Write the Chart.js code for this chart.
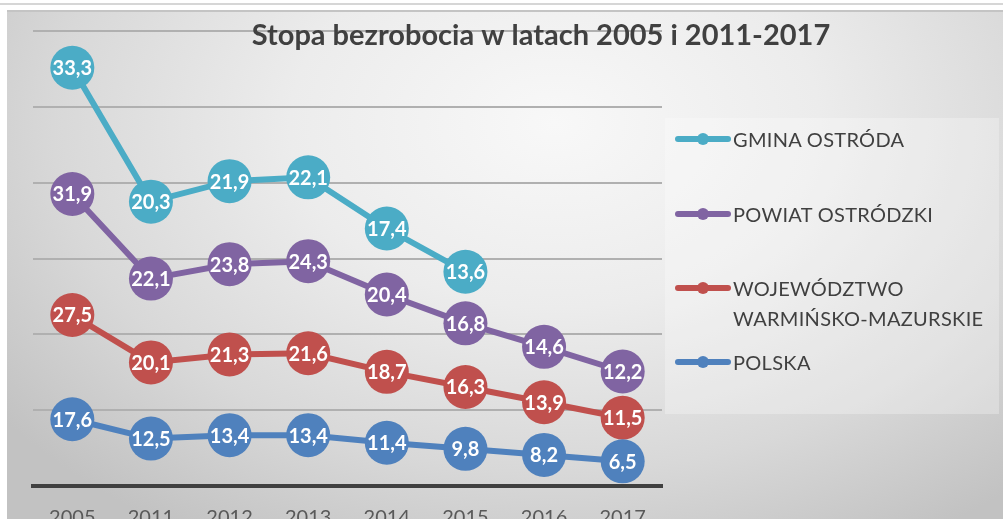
<!DOCTYPE html>
<html lang="pl">
<head>
<meta charset="utf-8">
<title>Stopa bezrobocia</title>
<script src="https://cdn.jsdelivr.net/npm/chart.js@4/dist/chart.umd.min.js"></script>
<style>
  html, body { margin: 0; padding: 0; background: #fff; overflow: hidden; }
  body { width: 1003px; height: 519px; position: relative; }
  .top-line { position: absolute; left: 0; top: 3px; width: 1003px; height: 2px; background: #d6d6d6; }
  .frame {
    position: absolute; left: 7px; top: 10px; width: 996px; height: 509px;
    border-top: 2px solid #c4c4c4;
    background: radial-gradient(ellipse 70% 95% at 55% 22%, #f8f8f8 0%, #ececec 38%, #d8d8d8 72%, #c2c2c2 100%);
  }
  .wrap { position: absolute; left: 0; top: 0; width: 1003px; height: 540px; }
  #legend {
    position: absolute; left: 665px; top: 118px; width: 334px; height: 296px;
    background: rgba(255,255,255,0.28);
    font-family: Lato, "Open Sans", sans-serif; font-size: 20px; color: #404040;
  }
  .item { position: absolute; left: 0; display: flex; align-items: flex-start; }
  .item svg { margin-left: 10px; margin-top: 9px; flex: none; }
  .item span { margin-left: 2px; line-height: 30px; white-space: pre; letter-spacing: 0.3px; }
</style>
</head>
<body>
<div class="top-line"></div>
<div class="frame"></div>
<div class="wrap"><canvas id="chart" width="1003" height="540"></canvas></div>
<div id="legend"></div>
<script>
// data
const years = ["2005", "2011", "2012", "2013", "2014", "2015", "2016", "2017"];
const gmina = [33.3, 20.3, 21.9, 22.1, 17.4, 13.6, null, null];
const powiat = [31.9, 22.1, 23.8, 24.3, 20.4, 16.8, 14.6, 12.2];
const wojewodztwo = [27.5, 20.1, 21.3, 21.6, 18.7, 16.3, 13.9, 11.5];
const polska = [17.6, 12.5, 13.4, 13.4, 11.4, 9.8, 8.2, 6.5];

const names = ["POLSKA", "WOJEWÓDZTWO\nWARMIŃSKO-MAZURSKIE", "POWIAT OSTRÓDZKI", "GMINA OSTRÓDA"];
const colors = ["#4F81BD", "#C0504D", "#8064A2", "#4BACC6"];
const series = [polska, wojewodztwo, powiat, gmina];

const FONT = "Lato, 'Open Sans', sans-serif";

// value labels inside the big markers
const valueLabels = {
    id: "valueLabels",
    afterDatasetsDraw(chart) {
        const ctx = chart.ctx;
        ctx.save();
        ctx.font = "bold 20px " + FONT;
        ctx.fillStyle = "#ffffff";
        ctx.textAlign = "center";
        ctx.textBaseline = "middle";
        for (let i = chart.data.datasets.length - 1; i >= 0; i--) {
            const meta = chart.getDatasetMeta(i);
            const data = chart.data.datasets[i].data;
            meta.data.forEach((pt, j) => {
                if (data[j] == null) return;
                ctx.fillText(data[j].toFixed(1).replace(".", ","), pt.x, pt.y + 1);
            });
        }
        ctx.restore();
    }
};

const titleText = {
    id: "titleText",
    afterDraw(chart) {
        const ctx = chart.ctx;
        ctx.save();
        ctx.font = "bold 29px " + FONT;
        ctx.fillStyle = "#404040";
        ctx.textAlign = "center";
        ctx.textBaseline = "alphabetic";
        ctx.fillText("Stopa bezrobocia w latach 2005 i 2011-2017", 541, 45);
        ctx.restore();
    }
};

new Chart(document.getElementById("chart"), {
    type: "line",
    data: {
        labels: years,
        datasets: series.map((d, i) => ({
            label: names[i],
            data: d,
            borderColor: colors[i],
            backgroundColor: colors[i],
            borderWidth: 6,
            pointRadius: 22,
            pointHoverRadius: 22,
            pointBorderWidth: 0,
            pointBackgroundColor: colors[i],
            tension: 0,
            fill: false,
            clip: false
        }))
    },
    options: {
        responsive: false,
        animation: false,
        layout: { padding: { left: 33, right: 341, top: 31, bottom: 0 } },
        plugins: {
            legend: { display: false },
            title: { display: false },
            tooltip: { enabled: false }
        },
        scales: {
            x: {
                offset: true,
                grid: { display: false, drawTicks: false },
                border: { display: true, color: "#404040", width: 4 },
                ticks: { color: "#595959", font: { family: FONT, size: 20 }, padding: 20 },
                afterFit(scale) { scale.height = 54; }
            },
            y: {
                stacked: true,
                min: 0,
                max: 120,
                ticks: { display: false, stepSize: 20 },
                grid: { color: "#b0b0b0", lineWidth: 2, drawTicks: false },
                border: { display: false },
                afterFit(scale) { scale.width = 0; }
            }
        }
    },
    plugins: [valueLabels, titleText]
});

// legend, top item first
const legendTops = [347, 273, 199, 124];
const legend = document.getElementById("legend");
series.forEach((d, i) => {
    const item = document.createElement("div");
    item.className = "item";
    item.style.top = (legendTops[i] - 118) + "px";
    item.innerHTML =
        '<svg width="56" height="12"><line x1="3" y1="6" x2="53" y2="6" stroke="' + colors[i] +
        '" stroke-width="6" stroke-linecap="round"/><circle cx="28" cy="6" r="6" fill="' + colors[i] + '"/></svg>' +
        "<span>" + names[i] + "</span>";
    legend.appendChild(item);
});
</script>
</body>
</html>
